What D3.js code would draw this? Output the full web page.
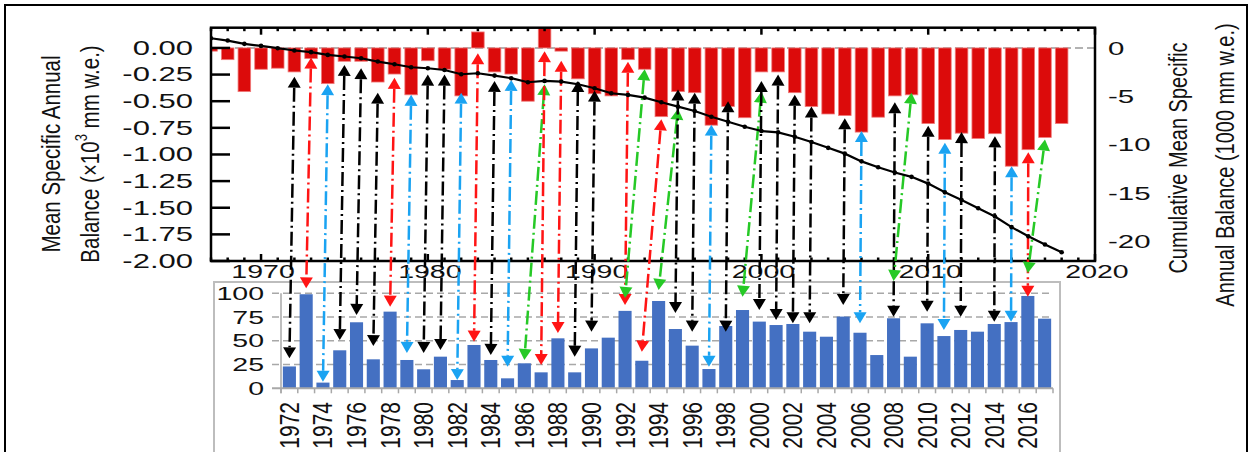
<!DOCTYPE html>
<html>
<head>
<meta charset="utf-8">
<script src="https://cdn.jsdelivr.net/npm/d3@7"></script>
<style>
  body { margin: 0; background: #fff; }
  svg text { font-family: "Liberation Sans", Arial, sans-serif; }
</style>
</head>
<body>
<div id="chart"></div>
<script>
// annual mass balance (x10^3 mm w.e.), 1967-2018
const balanceYears = d3.range(1967, 2019);
const balance = [
  -0.03, -0.11, -0.41, -0.20, -0.19, -0.225, -0.10, -0.335, -0.125, -0.125,
  -0.32, -0.245, -0.44, -0.12, -0.20, -0.45, 0.15, -0.225, -0.245, -0.50,
  0.19, -0.03, -0.29, -0.43, -0.45, -0.11, -0.20, -0.645, -0.41, -0.42,
  -0.725, -0.55, -0.655, -0.225, -0.225, -0.42, -0.55, -0.62, -0.635, -0.79,
  -0.65, -0.45, -0.44, -0.71, -0.86, -0.80, -0.85, -0.805, -1.11, -0.955,
  -0.84, -0.71
];
// cumulative balance (1000 mm w.e.)
const cumulative = [
  1.03, 0.79, 0.45, 0.24, 0.0, -0.24, -0.41, -0.69, -0.86, -1.04,
  -1.38, -1.66, -1.97, -2.07, -2.25, -2.69, -2.59, -2.83, -3.10, -3.52,
  -3.38, -3.45, -3.73, -4.14, -4.66, -4.83, -5.11, -5.59, -6.04, -6.49,
  -7.08, -7.60, -8.12, -8.56, -8.70, -9.15, -9.70, -10.30, -10.90, -11.70,
  -12.30, -12.85, -13.30, -14.00, -14.90, -15.70, -16.55, -17.40, -18.50, -19.45,
  -20.30, -21.10
];

// lower panel, 1972-2017
const lowerYears = d3.range(1972, 2018);
const lowerValues = [
  23, 99, 6, 40, 69.5, 30.5, 80.7, 29.8, 20, 33.3,
  8.7, 45.6, 29.8, 10.5, 26.3, 16.8, 52.6, 16.8, 42, 53.3,
  81.5, 29, 91.9, 62.4, 44.9, 20.3, 65.6, 82.4, 70.2, 66.6,
  67.7, 59.6, 54.3, 75.5, 58.5, 35, 73.7, 33.3, 68.4, 55,
  61.4, 59.6, 67.7, 69.7, 97.2, 73.3
];

const leftTicks = [0, -0.25, -0.5, -0.75, -1, -1.25, -1.5, -1.75, -2];
const rightTicks = [0, -5, -10, -15, -20];
const decadeTicks = [1970, 1980, 1990, 2000, 2010, 2020];
const lowerTicks = [0, 25, 50, 75, 100];
const lowerLabelYears = d3.range(1972, 2017, 2);

// [top year, bottom year, kind, top end (x10^3 mm), bottom end (%)]
const arrowLinks = [
  [1972, 1972, 'k', -0.27, 31.6], [1973, 1973, 'r', -0.09, 105.3],
  [1974, 1974, 'b', -0.34, 6.9], [1975, 1975, 'k', -0.16, 50.8],
  [1976, 1976, 'k', -0.19, 77.2], [1977, 1977, 'k', -0.42, 44.5],
  [1978, 1978, 'r', -0.28, 85.9], [1979, 1979, 'b', -0.44, 37.2],
  [1980, 1980, 'k', -0.25, 37.2], [1981, 1981, 'k', -0.25, 40.3],
  [1982, 1982, 'b', -0.42, 8.7], [1983, 1983, 'r', -0.05, 49.1],
  [1984, 1984, 'k', -0.31, 35.1], [1985, 1985, 'b', -0.30, 22.7],
  [1987, 1986, 'g', -0.34, 29.8], [1987, 1987, 'r', -0.03, 24.5],
  [1988, 1988, 'r', -0.12, 58.2], [1989, 1989, 'k', -0.31, 33.3],
  [1990, 1990, 'k', -0.40, 59.6], [1992, 1992, 'r', -0.13, 87.7],
  [1993, 1992, 'g', -0.20, 95.1], [1994, 1993, 'r', -0.67, 38.5],
  [1995, 1994, 'g', -0.57, 103.5], [1995, 1995, 'k', -0.39, 79.3],
  [1996, 1996, 'k', -0.42, 59.6], [1997, 1997, 'b', -0.72, 22.7],
  [1998, 1998, 'k', -0.50, 59.6], [2000, 1999, 'g', -0.41, 96.4],
  [2000, 2000, 'k', -0.31, 82.4], [2001, 2001, 'k', -0.25, 71.9],
  [2002, 2002, 'k', -0.44, 68.4], [2003, 2003, 'k', -0.55, 68.4],
  [2005, 2005, 'k', -0.66, 87.7], [2006, 2006, 'b', -0.78, 68.4],
  [2008, 2008, 'k', -0.51, 75.4], [2009, 2008, 'g', -0.42, 113],
  [2010, 2010, 'k', -0.73, 80.6], [2011, 2011, 'b', -0.89, 61.4],
  [2012, 2012, 'k', -0.79, 75.4], [2014, 2014, 'k', -0.83, 70.1],
  [2015, 2015, 'b', -1.11, 70.1], [2016, 2016, 'r', -0.98, 96.4],
  [2017, 2016, 'g', -0.86, 121.4]
];

const W = 1250, H = 452;
const arrowColor = { k: '#000000', r: '#ff1414', b: '#1aa3f2', g: '#26c926' };

const svg = d3.select('#chart').append('svg')
  .attr('width', W).attr('height', H);

// stretched text, the source image is widened horizontally
function label(parent, x, y, str, o = {}) {
  const g = parent.append('g')
    .attr('transform', `translate(${x},${y}) scale(${o.sx || 1.5},1) rotate(${o.rot || 0})`);
  const t = g.append('text')
    .attr('font-size', o.size || 19)
    .attr('text-anchor', o.anchor || 'middle')
    .attr('fill', '#111');
  if (o.baseline) t.attr('dominant-baseline', o.baseline);
  t.text(str);
  return t;
}

svg.append('rect')
  .attr('x', 5).attr('y', 5).attr('width', 1242).attr('height', 470)
  .attr('fill', 'none').attr('stroke', '#000').attr('stroke-width', 2);

// ---------- upper panel ----------
const upBox = { l: 211, r: 1095, t: 27.7, b: 261 };
const xTop = d3.scaleLinear().domain([1967, 2020]).range([upBox.l, upBox.r]);
const yTop = d3.scaleLinear().domain([-2, 0.19]).range([upBox.b, upBox.t]);
const yCum = d3.scaleLinear().domain([-22, 2.12]).range([upBox.b, upBox.t]);

svg.append('clipPath').attr('id', 'clipTop')
  .append('rect').attr('x', upBox.l).attr('y', upBox.t)
  .attr('width', upBox.r - upBox.l).attr('height', upBox.b - upBox.t);

const upper = svg.append('g');

upper.append('line')
  .attr('x1', upBox.l).attr('x2', upBox.r)
  .attr('y1', yTop(0)).attr('y2', yTop(0))
  .attr('stroke', '#999').attr('stroke-width', 1.5)
  .attr('stroke-dasharray', '8,4');

const barW = 12.6;
upper.append('g').attr('clip-path', 'url(#clipTop)')
  .selectAll('rect')
  .data(balanceYears)
  .enter()
  .append('rect')
  .attr('x', d => xTop(d) - barW / 2)
  .attr('width', barW)
  .attr('y', (d, i) => yTop(Math.max(0, balance[i])))
  .attr('height', (d, i) => Math.abs(yTop(balance[i]) - yTop(0)))
  .attr('fill', '#dc0b0b')
  .attr('stroke', '#f07b7b')
  .attr('stroke-width', 0.8);

// left ticks (inward)
upper.append('g').selectAll('line')
  .data(leftTicks)
  .enter()
  .append('line')
  .attr('x1', upBox.l).attr('x2', upBox.l + 19)
  .attr('y1', d => yTop(d)).attr('y2', d => yTop(d))
  .attr('stroke', '#000').attr('stroke-width', 2.5);

leftTicks.forEach(d => {
  label(upper, 193, yTop(d), d.toFixed(2), { anchor: 'end', baseline: 'central', size: 20, sx: 1.55 });
});

rightTicks.forEach(d => {
  label(upper, 1108, yCum(d), String(d), { anchor: 'start', baseline: 'central', size: 19, sx: 1.55 });
});

// year ticks on top and bottom edges
const allYears = d3.range(1967, 2021);
upper.append('g').selectAll('line')
  .data(allYears)
  .enter()
  .append('line')
  .attr('x1', d => xTop(d)).attr('x2', d => xTop(d))
  .attr('y1', upBox.t).attr('y2', d => upBox.t + (d % 10 === 0 ? 7 : 3.5))
  .attr('stroke', '#000').attr('stroke-width', 2.5);
upper.append('g').selectAll('line')
  .data(allYears)
  .enter()
  .append('line')
  .attr('x1', d => xTop(d)).attr('x2', d => xTop(d))
  .attr('y1', upBox.b).attr('y2', d => upBox.b - (d % 10 === 0 ? 7 : 3.5))
  .attr('stroke', '#000').attr('stroke-width', 2.5);

upper.append('rect')
  .attr('x', upBox.l).attr('y', upBox.t)
  .attr('width', upBox.r - upBox.l).attr('height', upBox.b - upBox.t)
  .attr('fill', 'none').attr('stroke', '#000').attr('stroke-width', 2.5);

decadeTicks.forEach(d => {
  label(upper, xTop(d) + 2, 278, String(d), { size: 19, sx: 1.5 });
});

label(svg, 50, 154, 'Mean Specific Annual', { rot: -90, baseline: 'central', size: 20.5, sx: 1.3 });
const t2 = label(svg, 89, 154, '', { rot: -90, baseline: 'central', size: 20.5, sx: 1.3 });
t2.append('tspan').text('Balance (×10');
t2.append('tspan').attr('font-size', 13).attr('dy', -7).text('3');
t2.append('tspan').attr('dy', 7).text(' mm w.e.)');

label(svg, 1178, 158, 'Cumulative Mean Specific', { rot: -90, baseline: 'central', size: 20, sx: 1.3 });
label(svg, 1225, 165, 'Annual Balance (1000 mm w.e.)', { rot: -90, baseline: 'central', size: 20, sx: 1.3 });

// ---------- lower panel ----------
const lowBox = { l: 281, r: 1053, t: 293.3, b: 388.3 };
const xBot = d3.scaleBand().domain(lowerYears).range([lowBox.l, lowBox.r])
  .paddingInner(0.22).paddingOuter(0.11);
const yBot = d3.scaleLinear().domain([0, 100]).range([lowBox.b, lowBox.t]);
const step = xBot.step();
const cx = d => xBot(d) + xBot.bandwidth() / 2;

const lower = svg.append('g');

lower.append('rect')
  .attr('x', 214).attr('y', 282)
  .attr('width', 846).attr('height', 200)
  .attr('fill', 'none').attr('stroke', '#bdbdbd').attr('stroke-width', 2);

lower.append('g').selectAll('line')
  .data(lowerTicks.slice(1))
  .enter()
  .append('line')
  .attr('x1', 272).attr('x2', lowBox.r)
  .attr('y1', d => yBot(d)).attr('y2', d => yBot(d))
  .attr('stroke', '#a8a8a8').attr('stroke-width', 1.5)
  .attr('stroke-dasharray', '7,4');

lower.append('g').selectAll('rect')
  .data(lowerYears)
  .enter()
  .append('rect')
  .attr('x', d => xBot(d))
  .attr('width', xBot.bandwidth())
  .attr('y', (d, i) => yBot(lowerValues[i]))
  .attr('height', (d, i) => yBot(0) - yBot(lowerValues[i]))
  .attr('fill', '#4470c2');

lower.append('line')
  .attr('x1', lowBox.l).attr('x2', lowBox.l)
  .attr('y1', lowBox.t).attr('y2', lowBox.b + 5)
  .attr('stroke', '#a8a8a8').attr('stroke-width', 1.5);
lower.append('line')
  .attr('x1', 272).attr('x2', lowBox.r)
  .attr('y1', lowBox.b).attr('y2', lowBox.b)
  .attr('stroke', '#a8a8a8').attr('stroke-width', 2);

lower.append('g').selectAll('line')
  .data(d3.range(lowerYears.length + 1))
  .enter()
  .append('line')
  .attr('x1', i => lowBox.l + i * step).attr('x2', i => lowBox.l + i * step)
  .attr('y1', lowBox.b).attr('y2', lowBox.b + 5)
  .attr('stroke', '#a8a8a8').attr('stroke-width', 1.5);

lowerTicks.forEach(d => {
  label(lower, 264, yBot(d), String(d), { anchor: 'end', baseline: 'central', size: 19, sx: 1.5 });
});

lowerLabelYears.forEach(d => {
  label(lower, cx(d), 402, String(d), { anchor: 'end', baseline: 'central', rot: -90, size: 21, sx: 1.3 });
});

// ---------- connecting arrows ----------
const arrows = svg.append('g');
const headL = 11, headW = 6.5;

arrowLinks.forEach(([ty, by, kind, tv, bv]) => {
  const col = arrowColor[kind];
  const x1 = xTop(ty), y1 = yTop(tv);
  const x2 = cx(by), y2 = yBot(bv);
  const len = Math.hypot(x2 - x1, y2 - y1);
  const ux = (x2 - x1) / len, uy = (y2 - y1) / len;

  arrows.append('line')
    .attr('x1', x1 + ux * headL).attr('y1', y1 + uy * headL)
    .attr('x2', x2 - ux * headL).attr('y2', y2 - uy * headL)
    .attr('stroke', col).attr('stroke-width', 2.5)
    .attr('stroke-dasharray', '14,4,2,4');

  const headPath = (tx, ty2, dx, dy) => {
    const bx = tx + dx * headL, byy = ty2 + dy * headL;
    return `M${tx},${ty2}L${bx - dy * headW},${byy + dx * headW}L${bx + dy * headW},${byy - dx * headW}Z`;
  };
  arrows.append('path').attr('d', headPath(x1, y1, ux, uy)).attr('fill', col);
  arrows.append('path').attr('d', headPath(x2, y2, -ux, -uy)).attr('fill', col);
});

// ---------- cumulative line ----------
const cumLine = d3.line()
  .x((d, i) => xTop(balanceYears[i]))
  .y(d => yCum(d));

const cum = svg.append('g').attr('clip-path', 'url(#clipTop)');
cum.append('path')
  .datum(cumulative)
  .attr('d', cumLine)
  .attr('fill', 'none')
  .attr('stroke', '#000')
  .attr('stroke-width', 2.2);
cum.selectAll('circle')
  .data(cumulative)
  .enter()
  .append('circle')
  .attr('cx', (d, i) => xTop(balanceYears[i]))
  .attr('cy', d => yCum(d))
  .attr('r', 2.3)
  .attr('fill', '#000');
</script>
</body>
</html>
